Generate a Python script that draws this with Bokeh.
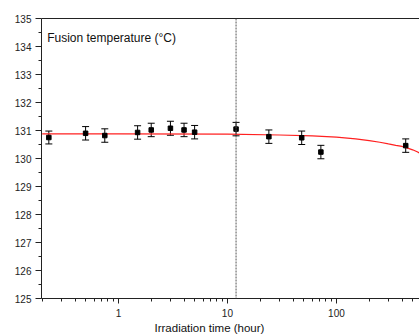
from bokeh.plotting import figure
from bokeh.models import (ColumnDataSource, Whisker, TeeHead, FixedTicker, Span,
                          Label, LinearAxis, Range1d, Title)
from bokeh.embed import file_html
from bokeh.resources import INLINE

# ---- data ----
time_h = [0.23, 0.5, 0.75, 1.5, 2, 3, 4, 5, 12, 24, 48, 72, 432]
temp_c = [130.75, 130.90, 130.82, 130.93, 131.02, 131.08, 131.02, 130.94,
          131.05, 130.78, 130.74, 130.23, 130.46]
temp_err = [0.23, 0.24, 0.24, 0.24, 0.24, 0.25, 0.24, 0.24, 0.24, 0.24,
            0.24, 0.24, 0.24]

fit_time = [0.2, 1, 10, 30, 60, 100, 150, 200, 250, 300, 350, 400, 450,
            500, 550, 600]
fit_temp = [130.88, 130.88, 130.87, 130.84, 130.81, 130.76, 130.70, 130.64,
            130.58, 130.52, 130.47, 130.43, 130.37, 130.31, 130.24, 130.16]

marker_time = 12  # dashed vertical line
y_ticks = [125, 126, 127, 128, 129, 130, 131, 132, 133, 134, 135]
x_ticks = [1, 10, 100]
x_tick_labels = ["1", "10", "100"]

FONT = "Liberation Sans"

p = figure(width=419, height=334, x_axis_type="log",
           x_range=Range1d(0.197, 578), y_range=Range1d(125, 135),
           output_backend="svg", toolbar_location=None,
           min_border_left=41, min_border_right=0, min_border_top=18,
           min_border_bottom=36)
p.outline_line_color = None
p.xgrid.visible = False
p.ygrid.visible = False
p.background_fill_color = "white"
p.border_fill_color = "white"

xax = p.below[0]
yax = p.left[0]

# top frame line
top = LinearAxis(major_tick_line_color=None, minor_tick_line_color=None,
                 major_label_text_font_size="0px", axis_line_color="#222",
                 ticker=FixedTicker(ticks=[], minor_ticks=[]))
p.add_layout(top, "above")

# axes
minor_x = [m * d for d in (0.1, 1, 10, 100) for m in range(2, 10)]
xax.ticker = FixedTicker(ticks=x_ticks, minor_ticks=minor_x)
yax.ticker = FixedTicker(ticks=y_ticks,
                         minor_ticks=[v + 0.5 for v in y_ticks[:-1]])
xax.major_label_overrides = dict(zip(x_ticks, x_tick_labels))
for ax in (xax, yax):
    ax.axis_line_color = "#222"
    ax.major_tick_line_color = "#222"
    ax.minor_tick_line_color = "#222"
    ax.major_tick_in = 0
    ax.minor_tick_in = 0
    ax.major_label_text_font = FONT
    ax.major_label_text_font_size = "10px"
    ax.major_label_text_color = "#222"
yax.major_tick_out = 6
yax.minor_tick_out = 3
yax.major_label_standoff = 4
xax.major_tick_out = 5
xax.minor_tick_out = 3
xax.major_label_standoff = 5

# dashed vertical marker
p.add_layout(Span(location=marker_time, dimension="height", line_color="#555",
                  line_dash="2 1", line_width=1))

# fit curve
p.line(fit_time, fit_temp, line_color="#ff2020", line_width=1.2)

# error bars
src = ColumnDataSource(dict(
    t=time_h, y=temp_c,
    upper=[v + e for v, e in zip(temp_c, temp_err)],
    lower=[v - e for v, e in zip(temp_c, temp_err)]))
p.add_layout(Whisker(base="t", upper="upper", lower="lower", source=src,
                     line_color="black", line_width=1,
                     upper_head=TeeHead(size=7, line_color="black", line_width=1),
                     lower_head=TeeHead(size=7, line_color="black", line_width=1)))
p.scatter("t", "y", source=src, marker="square", size=4.5, color="black")

# texts
p.add_layout(Label(x=0.222, y=134.30, text="Fusion temperature (°C)",
                   text_font=FONT, text_font_size="12px", text_color="#111",
                   text_baseline="alphabetic", text_align="left"))
p.add_layout(Title(text="Irradiation time (hour)", align="left", offset=113,
                   text_font=FONT, text_font_size="11.5px",
                   text_font_style="normal", text_color="#111", standoff=0),
             "below")

open("out.html", "w").write(file_html(p, INLINE))
